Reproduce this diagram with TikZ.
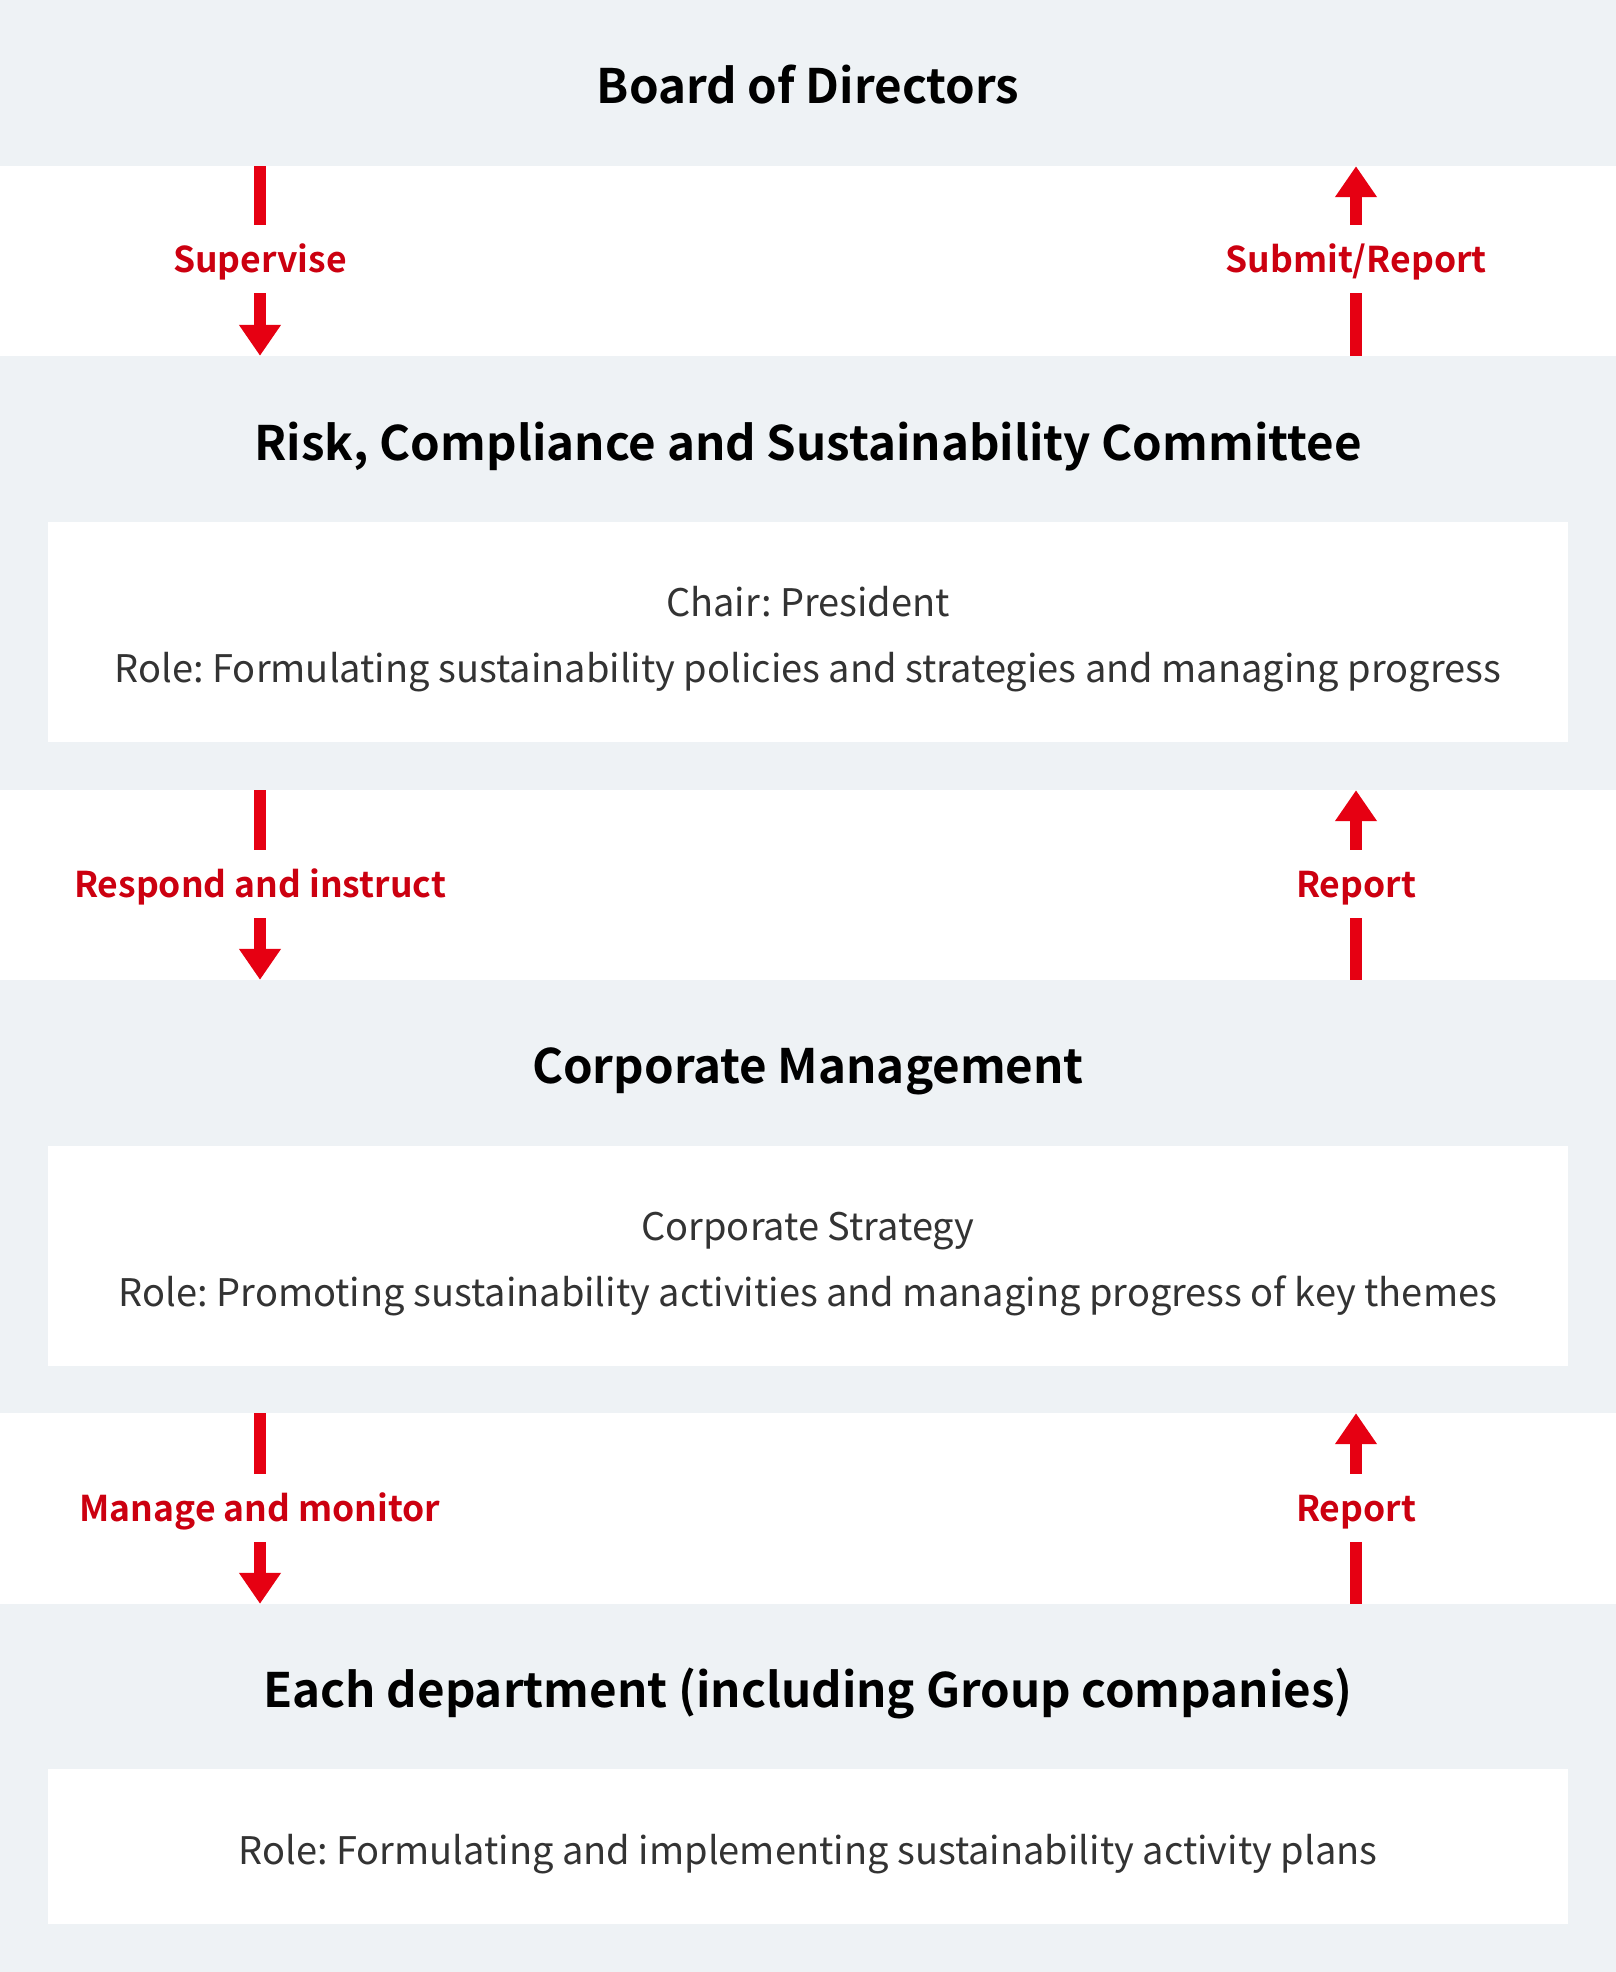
\documentclass[tikz,border=0pt]{standalone}
\usepackage{fontspec}
\setmainfont{Noto Sans CJK JP}[BoldFont={Noto Sans CJK JP Bold}]
\usetikzlibrary{arrows.meta,positioning}
\definecolor{bandgray}{HTML}{EEF2F5}
\definecolor{arrowred}{HTML}{E60012}
\definecolor{labelred}{HTML}{CC0010}
\definecolor{bodygray}{HTML}{333333}
\frenchspacing

\begin{document}
\begin{tikzpicture}[x=1pt, y=-1pt,
    band/.style={rectangle, fill=bandgray, minimum width=1616pt, inner sep=0pt},
    rolebox/.style={rectangle, fill=white, minimum width=1520pt, inner sep=0pt},
    heading/.style={font=\bfseries\fontsize{47.5}{57}\selectfont, text height=35pt, text depth=0pt, inner sep=0pt},
    roletext/.style={font=\fontsize{38}{46}\selectfont, text=bodygray, text height=28pt, text depth=0pt, inner sep=0pt},
    flowlabel/.style={font=\bfseries\fontsize{35.5}{43}\selectfont, text=labelred, minimum height=68pt, text height=26pt, text depth=0pt, inner sep=0pt},
    shaft/.style={draw=arrowred, line width=12pt},
    shafttip/.style={shaft, -{Triangle[width=40pt, length=31pt]}}
  ]
  \useasboundingbox (0,0) rectangle (1616,1972);
  \fill[white] (0,0) rectangle (1616,1972);

  % bands
  \node[band, minimum height=166pt] (board) at (808,83) {};
  \node[band, minimum height=434pt] (rcsc) at (808,573) {};
  \node[band, minimum height=433pt] (corp) at (808,1196.5) {};
  \node[band, minimum height=368pt] (dept) at (808,1788) {};

  % white role boxes
  \node[rolebox, minimum height=220pt] (rcscbox) at (808,632) {};
  \node[rolebox, minimum height=220pt] (corpbox) at (808,1256) {};
  \node[rolebox, minimum height=155pt] (deptbox) at (808,1846.5) {};

  % headings
  \node[heading] (boardT) at (808,86) {Board of Directors};
  \node[heading] (rcscT) at (808,443) {Risk, Compliance and Sustainability Committee};
  \node[heading] (corpT) at (808,1066) {Corporate Management};
  \node[heading] (deptT) at (808,1690) {Each department (including Group companies)};

  % role texts
  \node[roletext] (rcscChair) at (808,602) {Chair: President};
  \node[roletext] (rcscRole) at (808,668) {Role: Formulating sustainability policies and strategies and managing progress};
  \node[roletext] (corpChair) at (808,1226) {Corporate Strategy};
  \node[roletext] (corpRole) at (808,1292) {Role: Promoting sustainability activities and managing progress of key themes};
  \node[roletext] (deptRole) at (808,1850) {Role: Formulating and implementing sustainability activity plans};

  % labels between bands
  \node[flowlabel] (sup) at (260,259) {Supervise};
  \node[flowlabel] (subm) at (1356,259) {Submit/Report};
  \node[flowlabel] (resp) at (260,884) {Respond and instruct};
  \node[flowlabel] (rep1) at (1356,884) {Report};
  \node[flowlabel] (mana) at (260,1508) {Manage and monitor};
  \node[flowlabel] (rep2) at (1356,1508) {Report};

  % downward arrows
  \draw[shaft] (board.south -| sup) -- (sup.north);
  \draw[shafttip] (sup.south) -- (rcsc.north -| sup);
  \draw[shaft] (rcsc.south -| resp) -- (resp.north);
  \draw[shafttip] (resp.south) -- (corp.north -| resp);
  \draw[shaft] (corp.south -| mana) -- (mana.north);
  \draw[shafttip] (mana.south) -- (dept.north -| mana);

  % upward arrows
  \draw[shafttip] (subm.north) -- (board.south -| subm);
  \draw[shaft] (rcsc.north -| subm) -- (subm.south);
  \draw[shafttip] (rep1.north) -- (rcsc.south -| rep1);
  \draw[shaft] (corp.north -| rep1) -- (rep1.south);
  \draw[shafttip] (rep2.north) -- (corp.south -| rep2);
  \draw[shaft] (dept.north -| rep2) -- (rep2.south);
\end{tikzpicture}
\end{document}
